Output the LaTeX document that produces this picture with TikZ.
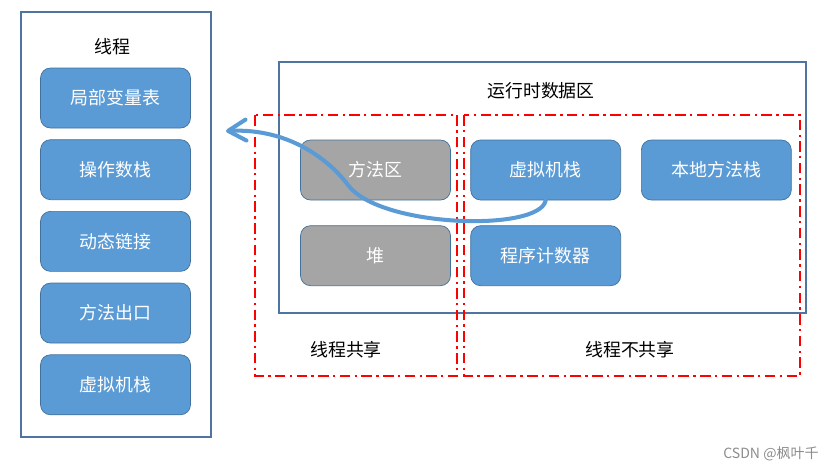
\documentclass[tikz,border=0pt]{standalone}
\usepackage{fontspec}
\setmainfont{Noto Sans CJK SC}
\usetikzlibrary{positioning}
\usetikzlibrary{arrows.meta}

\definecolor{boxblue}{HTML}{5B9BD5}
\definecolor{boxgray}{HTML}{A5A5A5}
\definecolor{edgeblue}{HTML}{41719C}
\definecolor{frameblue}{HTML}{4F74A0}

\begin{document}
\begin{tikzpicture}[x=0.02cm, y=-0.02cm, node distance=2.2mm and 3.9mm,
  common/.style={draw=edgeblue, rounded corners=2mm, fill=boxblue, text=white, minimum width=30mm, minimum height=12mm, font=\fontsize{10.2}{12}\selectfont},
  minimum width=15mm, text centered]
\tikzstyle{shared}=[common, fill=boxgray]
\tikzstyle{frame}=[draw=frameblue, line width=0.6pt]
\tikzstyle{zone}=[draw=red, line width=1.3pt, dash pattern=on 6pt off 2.5pt on 1.3pt off 2.5pt]
\tikzstyle{texto}=[font=\fontsize{10.2}{12}\selectfont]
\tikzset {>={Straight Barb[round, length=3.6mm, width=4.2mm]}}

\useasboundingbox (0,0) rectangle (830,471);

% marcos
\draw [frame] (21,12) rectangle (211,437);
\draw [frame] (279,62) rectangle (806,313);
\draw [zone] (255,115) rectangle (457,376);
\draw [zone] (464,115) rectangle (800,376);

% hilo
\node (T) [texto] at (112,47) {线程};
\node (L1) [common] at (115.5,98) {局部变量表};
\node (L2) [common, below=of L1] {操作数栈};
\node (L3) [common, below=of L2] {动态链接};
\node (L4) [common, below=of L3] {方法出口};
\node (L5) [common, below=of L4] {虚拟机栈};

% datos
\node (RT) [texto] at (541,91) {运行时数据区};
\node (FA) [shared] at (375.5,170) {方法区};
\node (HP) [shared, below=5mm of FA] {堆};
\node (VM) [common, right=of FA] {虚拟机栈};
\node (NM) [common, right=4mm of VM] {本地方法栈};
\node (PC) [common, below=5mm of VM] {程序计数器};

% etiquetas
\node (SH) [texto] at (346,350) {线程共享};
\node (NS) [texto] at (630,350) {线程不共享};

% flecha
\coordinate (tip) at (226,131);
\draw [->, draw=boxblue, line width=2.3pt, line cap=round] (VM.south) .. controls (540,232) and (380,228) .. (348,185) .. controls (330,161) and (290,128) .. (tip);

\node (CSDN) [text=black!45, font=\fontsize{8}{10}\selectfont] at (771,454) {CSDN @枫叶千};
\end{tikzpicture}
\end{document}
